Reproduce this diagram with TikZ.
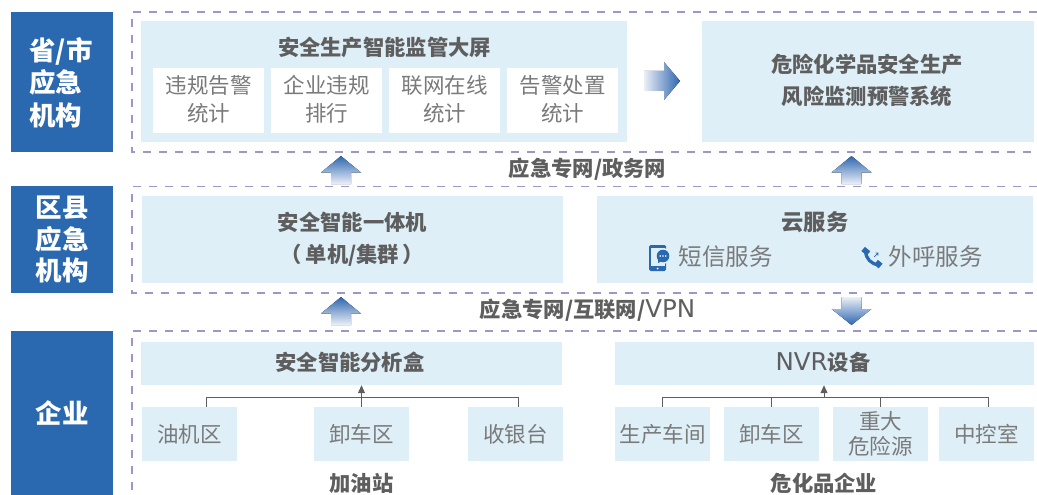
\documentclass[tikz,border=0pt]{standalone}
\usepackage{fontspec}
\setmainfont{Noto Sans CJK SC}
\newfontfamily\medlat{DejaVu Sans}
\usetikzlibrary{arrows.meta,calc}
\definecolor{lvl}{HTML}{2A68B0}
\definecolor{pale}{HTML}{DEEFF8}
\definecolor{dk}{HTML}{5E5E5E}
\definecolor{lt}{HTML}{7A7A7A}
\definecolor{dashc}{HTML}{9C97C6}
\definecolor{arr}{HTML}{2F66B0}
\tikzset{
 x=1pt,y=-1pt,
 level/.style={fill=lvl,text=white,font=\bfseries\fontsize{26.5}{31.5}\selectfont,align=center,inner sep=0},
 panel/.style={fill=pale,inner sep=0,text=dk,font=\bfseries\fontsize{21.3}{32}\selectfont,align=center},
 whitebox/.style={fill=white,inner sep=0},
 small/.style={fill=pale,inner sep=0,text=lt,font=\fontsize{21.5}{25}\selectfont,align=center},
 head/.style={text=dk,font=\bfseries\fontsize{21.3}{24}\selectfont,inner sep=0,align=center},
 whitetext/.style={text=lt,font=\fontsize{21.5}{28}\selectfont,align=center,inner sep=0},
 svc/.style={text=lt,font=\fontsize{23.5}{28}\selectfont,inner sep=0},
 dashline/.style={draw=dashc,line width=1.1pt,dash pattern=on 8pt off 8pt},
 bus/.style={draw=dk,line width=1pt},
 bustip/.style={-{Triangle[length=8pt,width=7pt]}},
}
\newcommand{\upArrow}[2]{%
 \fill[top color=arr,bottom color=arr!10] (#1,#2) -- (#1+20,#2+16.5) -- (#1+10,#2+16.5) -- (#1+10,#2+28) -- (#1-10,#2+28) -- (#1-10,#2+16.5) -- (#1-20,#2+16.5) -- cycle;}
\newcommand{\lat}[1]{{\medlat\mdseries\fontsize{24.5}{24}\selectfont #1}}
\begin{document}
\begin{tikzpicture}
\useasboundingbox (0,0) rectangle (1037,495);
% levels
\node[level,minimum width=102pt,minimum height=140pt] (L1) at (62,82) {};
\node[text=white,font=\bfseries\fontsize{26.5}{32.5}\selectfont,align=left,inner sep=0] (L1t) at (61,82.5) {省/市\\应急\\机构};
\node[level,minimum width=102pt,minimum height=107pt] (L2) at (62,239.5) {区县\\应急\\机构};
\node[level,minimum width=102pt,minimum height=164pt] (L3) at (62,413) {企业};
% dashed
\draw[dashline] (1037,12) -- (132,12) -- (132,152) -- (1037,152);
\draw[dashline] (1037,186.5) -- (132,186.5) -- (132,293) -- (1037,293);
\draw[dashline] (1037,331) -- (132,331) -- (132,495);
% top panels
\node[panel,minimum width=486pt,minimum height=121pt] (screen) at (384,81.5) {};
\node[head] (screent) at (384.5,47) {安全生产智能监管大屏};
\foreach \n/\x in {w1/208.5,w2/326.5,w3/444.5,w4/562.5}
 \node[whitebox,minimum width=111pt,minimum height=65pt] (\n) at (\x,100.5) {};
\foreach \n/\a/\b in {w1/违规告警/统计,w2/企业违规/排行,w3/联网在线/统计,w4/告警处置/统计}
 \node[whitetext] (\n t) at ($(\n.center)+(0,-1)$) {\a\\\b};
\node[panel,minimum width=332pt,minimum height=121pt] (haz) at (868,81.5) {};
\node[head,font=\bfseries\fontsize{21.3}{32}\selectfont] (hazt) at (867,80.5) {危险化学品安全生产\\风险监测预警系统};
% middle
\node[panel,minimum width=421pt,minimum height=87pt] (aio) at (352.5,239.5) {安全智能一体机\\（\,单机/集群\,）};
\node[panel,minimum width=436pt,minimum height=87pt] (cloud) at (815,239.5) {};
\node[head,font=\bfseries\fontsize{22.3}{24}\selectfont] (cloudt) at (815,222) {云服务};
\node[svc] (sms) at (725.5,257) {短信服务};
\node[svc] (call) at (935.5,257) {外呼服务};
% network labels
\node[head] (net1) at (587.5,169) {应急专网/政务网};
\node[head] (net2) at (587.5,310) {应急专网/互联网/\lat{VPN}};
% bottom
\node[panel,minimum width=421pt,minimum height=43pt] (box) at (351.5,363.5) {};
\node[head] (boxt) at (350,362.5) {安全智能分析盒};
\node[panel,minimum width=419pt,minimum height=43pt] (nvr) at (824.5,363.5) {};
\node[head] (nvrt) at (823,362.5) {\lat{NVR}设备};
\foreach \n/\x/\t in {a1/189.5/油机区,a2/361.5/卸车区,a3/515.5/收银台,b1/662.5/生产车间,b2/771.5/卸车区,b3/880.5/{重大\\危险源},b4/986.5/中控室}
 \node[small,minimum width=95pt,minimum height=54pt] (\n) at (\x,434) {\t};
\node[head] (gas) at (361.5,483) {加油站};
\node[head] (chem) at (824,483) {危化品企业};
% connectors
\coordinate (busA1) at ($(a1.north)+(16.5,0)$);
\coordinate (busA3) at ($(a3.north)+(2.5,0)$);
\coordinate (busB4) at ($(b4.north)+(1.5,0)$);
\coordinate (busR) at (824,398);
\draw[bus] (busA1) -- ++(0,-9) -| (busA3);
\draw[bus,bustip] (a2.north) -- (a2.north |- box.south);
\draw[bus] (b1.north) -- ++(0,-9) -| (busB4);
\draw[bus] (b2.north) -- ++(0,-9);
\draw[bus] (b3.north) -- ++(0,-9);
\draw[bus,bustip] (busR) -- (busR |- nvr.south);
% block arrows
\upArrow{341}{156}
\upArrow{851.5}{156}
\upArrow{341}{297}
\fill[bottom color=arr,top color=arr!10] (851.5,325) -- (871.5,309) -- (861.5,309) -- (861.5,297) -- (841.5,297) -- (841.5,309) -- (831.5,309) -- cycle;
\fill[right color=arr,left color=arr!10] (680,81) -- (664,62) -- (664,71) -- (644,71) -- (644,91) -- (664,91) -- (664,100) -- cycle;
% phone icon
\fill[lvl,rounded corners=1.5pt] (649,245) rectangle (666,271);
\fill[pale] (651,248) rectangle (665,266);
\fill[white] (657.5,268.5) circle (1pt);
\fill[pale] (663,256) circle (8pt);
\fill[lvl] (663,256) circle (6.3pt);
\fill[lvl] (658,260) -- (662,261) -- (658,263) -- cycle;
\fill[white] (660.3,256) circle (.9pt) (663,256) circle (.9pt) (665.7,256) circle (.9pt);
% handset icon
\draw[lvl,line width=3.2pt,line cap=round] (865.5,251) .. controls (866,259) and (871,264) .. (879,265);
\fill[lvl,rotate around={-40:(866,251)}] (862.5,248.5) rectangle (869.5,254);
\fill[lvl,rotate around={-40:(878,264.5)}] (875,261) rectangle (881,267);
\draw[lvl,line width=.7pt] (874,257) -- (878,253) (875.5,253) -- (878,253) -- (878,255.5);
\end{tikzpicture}
\end{document}
